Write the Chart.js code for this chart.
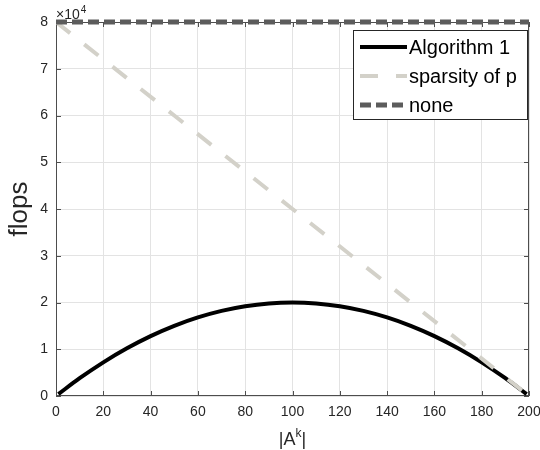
<!DOCTYPE html>
<html>
<head>
<meta charset="utf-8">
<script src="https://cdn.jsdelivr.net/npm/chart.js@4/dist/chart.umd.min.js"></script>
<style>
    body { margin: 0; background: #fff; }
    canvas { display: block; }
</style>
</head>
<body>
<canvas id="flopsChart" width="540" height="450"></canvas>
<script>
// Values
const algX = [1, 10, 20, 30, 40, 50, 60, 70, 80, 90, 100, 110, 120, 130, 140, 150, 160, 170, 180, 190, 199];
const algY = [400, 3800, 7200, 10200, 12800, 15000, 16800, 18200, 19200, 19800, 20000,
              19800, 19200, 18200, 16800, 15000, 12800, 10200, 7200, 3800, 400];
const sparsityX = [0, 50, 100, 150, 200];
const sparsityY = [80000, 60000, 40000, 20000, 0];
const noneX = [0, 200];
const noneY = [80000, 80000];

const seriesNames = ['Algorithm 1', 'sparsity of p', 'none'];
const xTicks = [0, 20, 40, 60, 80, 100, 120, 140, 160, 180, 200];
const yTickLabels = ['0', '1', '2', '3', '4', '5', '6', '7', '8'];

const FONT = '"Liberation Sans", Arial, Helvetica, sans-serif';
const AXIS_COLOR = '#4d4d4d';
const TEXT_COLOR = '#262626';

function toPoints(xs, ys) {
    return xs.map((x, i) => ({ x: x, y: ys[i] }));
}

// Box, inward ticks, exponent and titles (MATLAB look)
const matlabAxes = {
    id: 'matlabAxes',
    beforeDatasetsDraw(chart) {
        const ctx = chart.ctx;
        const a = chart.chartArea;
        const xs = chart.scales.x, ys = chart.scales.y;
        ctx.save();
        ctx.strokeStyle = AXIS_COLOR;
        ctx.lineWidth = 1;
        ctx.strokeRect(a.left + 0.5, a.top + 0.5, a.right - a.left - 1, a.bottom - a.top - 1);
        ctx.beginPath();
        xs.ticks.forEach(t => {
            const px = Math.round(xs.getPixelForValue(t.value)) + 0.5;
            ctx.moveTo(px, a.bottom); ctx.lineTo(px, a.bottom - 5);
            ctx.moveTo(px, a.top); ctx.lineTo(px, a.top + 5);
        });
        ys.ticks.forEach(t => {
            const py = Math.round(ys.getPixelForValue(t.value)) + 0.5;
            ctx.moveTo(a.left, py); ctx.lineTo(a.left + 5, py);
            ctx.moveTo(a.right, py); ctx.lineTo(a.right - 5, py);
        });
        ctx.stroke();
        ctx.restore();
    },
    afterDraw(chart) {
        const ctx = chart.ctx;
        const a = chart.chartArea;
        ctx.save();
        ctx.fillStyle = TEXT_COLOR;
        ctx.textBaseline = 'alphabetic';
        ctx.textAlign = 'left';

        // x10^4 exponent
        ctx.font = '14px ' + FONT;
        ctx.fillText('\u00d710', a.left, 19);
        const w = ctx.measureText('\u00d710').width;
        ctx.font = '10px ' + FONT;
        ctx.fillText('4', a.left + w + 1, 13);

        // y title
        ctx.save();
        ctx.translate(20, (a.top + a.bottom) / 2);
        ctx.rotate(-Math.PI / 2);
        ctx.textAlign = 'center';
        ctx.textBaseline = 'middle';
        ctx.font = '26px ' + FONT;
        ctx.fillText('flops', 0, 0);
        ctx.restore();

        // x title |A^k|
        ctx.font = '18px ' + FONT;
        const w1 = ctx.measureText('|A').width;
        const w3 = ctx.measureText('|').width;
        ctx.font = '12px ' + FONT;
        const w2 = ctx.measureText('k').width;
        const total = w1 + w2 + w3;
        let sx = (a.left + a.right) / 2 - total / 2;
        ctx.font = '18px ' + FONT;
        ctx.fillText('|A', sx, 445);
        ctx.font = '12px ' + FONT;
        ctx.fillText('k', sx + w1, 437);
        ctx.font = '18px ' + FONT;
        ctx.fillText('|', sx + w1 + w2, 445);

        // legend box
        const lx = 353, ly = 30, lw = 174, lh = 89;
        ctx.fillStyle = '#ffffff';
        ctx.fillRect(lx, ly, lw, lh);
        ctx.strokeStyle = TEXT_COLOR;
        ctx.lineWidth = 1;
        ctx.strokeRect(lx + 0.5, ly + 0.5, lw, lh);
        const rows = [47, 76, 105];
        chart.data.datasets.forEach((ds, i) => {
            const y = rows[i];
            ctx.save();
            ctx.strokeStyle = ds.borderColor;
            ctx.lineWidth = ds.borderWidth;
            ctx.lineCap = 'butt';
            ctx.setLineDash(ds.borderDash || []);
            ctx.beginPath();
            ctx.moveTo(360, y);
            ctx.lineTo(407, y);
            ctx.stroke();
            ctx.restore();
            ctx.fillStyle = '#000';
            ctx.font = '20px ' + FONT;
            ctx.textBaseline = 'middle';
            ctx.fillText(ds.label, 409, y + 1);
        });
        ctx.restore();
    }
};

const ctx = document.getElementById('flopsChart').getContext('2d');
new Chart(ctx, {
    type: 'line',
    data: {
        datasets: [
            {
                label: seriesNames[0],
                data: toPoints(algX, algY),
                borderColor: '#000000',
                borderWidth: 4,
                cubicInterpolationMode: 'monotone',
                pointRadius: 0,
                order: 3
            },
            {
                label: seriesNames[1],
                data: toPoints(sparsityX, sparsityY),
                borderColor: '#d3d1c9',
                borderWidth: 4,
                borderDash: [18, 18],
                borderCapStyle: 'butt',
                pointRadius: 0,
                order: 2
            },
            {
                label: seriesNames[2],
                data: toPoints(noneX, noneY),
                borderColor: '#5c5c5c',
                borderWidth: 5,
                borderDash: [11, 5],
                borderCapStyle: 'butt',
                pointRadius: 0,
                clip: 4,
                order: 1
            }
        ]
    },
    options: {
        responsive: false,
        animation: false,
        layout: { padding: { left: 0, right: 11, top: 22, bottom: 0 } },
        plugins: {
            legend: { display: false },
            tooltip: { enabled: false }
        },
        scales: {
            x: {
                type: 'linear',
                min: 0,
                max: 200,
                afterFit: s => {
                    s.height = 54;
                    s.paddingLeft = 0;
                    s.paddingRight = 0;
                },
                afterBuildTicks: s => { s.ticks = xTicks.map(v => ({ value: v })); },
                grid: { color: '#e3e3e3', drawTicks: false },
                border: { display: false },
                ticks: {
                    padding: 8,
                    maxRotation: 0,
                    color: TEXT_COLOR,
                    font: { family: FONT, size: 14 }
                }
            },
            y: {
                min: 0,
                max: 80000,
                afterFit: s => {
                    s.width = 56;
                    s.paddingTop = 0;
                    s.paddingBottom = 0;
                },
                grid: { color: '#e3e3e3', drawTicks: false },
                border: { display: false },
                ticks: {
                    stepSize: 10000,
                    padding: 8,
                    color: TEXT_COLOR,
                    font: { family: FONT, size: 14 },
                    callback: (v, i) => yTickLabels[i]
                }
            }
        }
    },
    plugins: [matlabAxes]
});
</script>
</body>
</html>
